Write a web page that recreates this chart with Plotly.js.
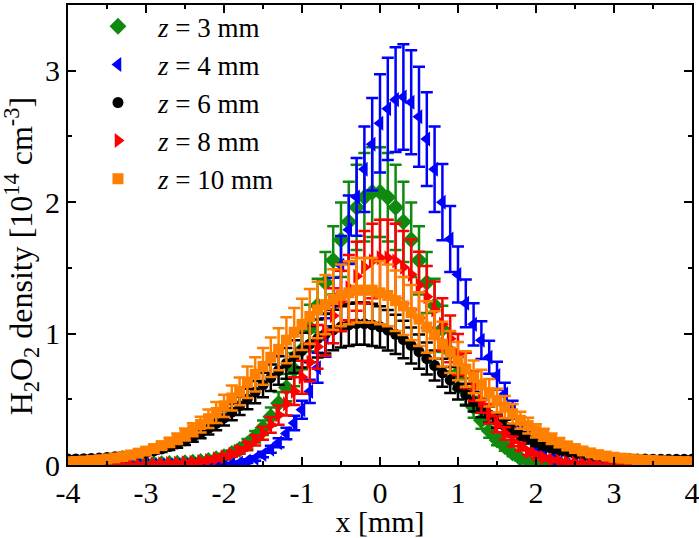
<!DOCTYPE html>
<html>
<head>
<meta charset="utf-8">
<script src="https://cdn.plot.ly/plotly-3.0.1.min.js"></script>
<style>
  html, body { margin: 0; padding: 0; background: #fff; }
  #plot { width: 699px; height: 538px; }
</style>
</head>
<body>
<div id="plot"></div>
<script>
// measurement positions [mm]
var xPos = [-4.0,-3.9,-3.8,-3.7,-3.6,-3.5,-3.4,-3.3,-3.2,-3.1,
            -3.0,-2.9,-2.8,-2.7,-2.6,-2.5,-2.4,-2.3,-2.2,-2.1,
            -2.0,-1.9,-1.8,-1.7,-1.6,-1.5,-1.4,-1.3,-1.2,-1.1,
            -1.0,-0.9,-0.8,-0.7,-0.6,-0.5,-0.4,-0.3,-0.2,-0.1,
             0.0, 0.1, 0.2, 0.3, 0.4, 0.5, 0.6, 0.7, 0.8, 0.9,
             1.0, 1.1, 1.2, 1.3, 1.4, 1.5, 1.6, 1.7, 1.8, 1.9,
             2.0, 2.1, 2.2, 2.3, 2.4, 2.5, 2.6, 2.7, 2.8, 2.9,
             3.0, 3.1, 3.2, 3.3, 3.4, 3.5, 3.6, 3.7, 3.8, 3.9, 4.0];

// z = 3 mm
var z3 = [0.01,0.01,0.01,0.01,0.01,0.01,0.01,0.01,0.01,0.01,
          0.01,0.01,0.01,0.012,0.014,0.017,0.021,0.027,0.035,0.047,
          0.064,0.087,0.119,0.161,0.215,0.284,0.368,0.470,0.589,0.726,
          0.878,1.042,1.214,1.388,1.557,1.714,1.850,1.960,2.037,2.076,
          2.076,2.037,1.960,1.850,1.714,1.557,1.388,1.214,1.035,0.86,
          0.70,0.56,0.44,0.34,0.26,0.19,0.14,0.09,0.05,0.03,
          0.01,0,0,0,0,0,0,0,0,0,
          0,0,0,0,0,0,0,0,0,0,0];
var z3err = [0.01,0.01,0.01,0.01,0.01,0.01,0.01,0.01,0.01,0.01,
             0.01,0.01,0.01,0.012,0.012,0.013,0.013,0.014,0.016,0.018,
             0.02,0.024,0.029,0.036,0.044,0.055,0.069,0.085,0.104,0.126,
             0.15,0.177,0.204,0.232,0.259,0.284,0.306,0.324,0.336,0.342,
             0.342,0.336,0.324,0.306,0.284,0.259,0.232,0.204,0.176,0.148,
             0.122,0.10,0.08,0.064,0.052,0.04,0.032,0.024,0.018,0.015,
             0.012,0.01,0.01,0.01,0.01,0.01,0.01,0.01,0.01,0.01,
             0.01,0.01,0.01,0.01,0.01,0.01,0.01,0.01,0.01,0.01,0.01];

// z = 4 mm
var z4 = [0,0,0,0,0,0,0,0,0,0,
          0,0,0,0,0,0,0,0,0,0,
          0,0.005,0.015,0.03,0.05,0.08,0.12,0.17,0.24,0.32,
          0.42,0.56,0.74,0.97,1.24,1.52,1.79,2.04,2.25,2.44,
          2.60,2.71,2.78,2.80,2.76,2.65,2.48,2.25,2.00,1.72,
          1.45,1.23,1.07,0.95,0.82,0.68,0.54,0.42,0.31,0.22,
          0.15,0.09,0.05,0.02,0,0,0,0,0,0,
          0,0,0,0,0,0,0,0,0,0,0];
var z4err = [0.01,0.01,0.01,0.01,0.01,0.01,0.01,0.01,0.01,0.01,
             0.01,0.01,0.01,0.01,0.01,0.01,0.01,0.01,0.01,0.01,
             0.01,0.01,0.012,0.014,0.017,0.021,0.027,0.034,0.044,0.055,
             0.069,0.088,0.114,0.146,0.184,0.223,0.261,0.296,0.325,0.352,
             0.374,0.389,0.399,0.402,0.396,0.381,0.357,0.325,0.29,0.251,
             0.213,0.182,0.16,0.143,0.125,0.105,0.086,0.069,0.053,0.041,
             0.031,0.023,0.017,0.013,0.01,0.01,0.01,0.01,0.01,0.01,
             0.01,0.01,0.01,0.01,0.01,0.01,0.01,0.01,0.01,0.01,0.01];

// z = 6 mm
var z6 = [0.045,0.046,0.048,0.050,0.053,0.057,0.062,0.068,0.075,0.084,
          0.095,0.107,0.122,0.140,0.160,0.184,0.212,0.243,0.278,0.316,
          0.358,0.403,0.451,0.502,0.555,0.609,0.664,0.719,0.773,0.825,
          0.874,0.920,0.962,0.998,1.028,1.051,1.066,1.075,1.075,1.066,
          1.051,1.026,0.994,0.955,0.910,0.862,0.810,0.757,0.702,0.646,
          0.590,0.535,0.482,0.431,0.383,0.338,0.297,0.260,0.227,0.197,
          0.171,0.148,0.128,0.111,0.097,0.085,0.075,0.067,0.061,0.056,
          0.052,0.049,0.047,0.046,0.045,0.044,0.044,0.043,0.043,0.043,0.043];
var z6err = [0.01,0.01,0.01,0.01,0.01,0.015,0.015,0.015,0.015,0.017,
             0.019,0.02,0.023,0.025,0.028,0.032,0.036,0.040,0.045,0.051,
             0.057,0.063,0.070,0.078,0.085,0.093,0.101,0.109,0.117,0.125,
             0.132,0.138,0.145,0.150,0.154,0.157,0.160,0.161,0.161,0.160,
             0.157,0.154,0.149,0.143,0.137,0.130,0.122,0.115,0.107,0.099,
             0.091,0.083,0.075,0.068,0.061,0.054,0.048,0.043,0.038,0.034,
             0.030,0.026,0.024,0.021,0.019,0.017,0.016,0.015,0.014,0.013,
             0.013,0.012,0.012,0.012,0.011,0.011,0.011,0.011,0.011,0.011,0.011];

// z = 8 mm
var z8 = [0,0,0,0,0,0,0,0,0,0,
          0.005,0.007,0.009,0.011,0.014,0.017,0.021,0.027,0.035,0.047,
          0.062,0.083,0.110,0.144,0.188,0.242,0.306,0.380,0.466,0.562,
          0.668,0.781,0.899,1.019,1.136,1.248,1.349,1.436,1.504,1.552,
          1.577,1.577,1.552,1.504,1.45,1.37,1.28,1.18,1.07,0.96,
          0.84,0.72,0.60,0.49,0.39,0.31,0.24,0.18,0.14,0.10,
          0.075,0.055,0.04,0.030,0.021,0.015,0.010,0.006,0,0,
          0,0,0,0,0,0,0,0,0,0,0];
var z8err = [0.005,0.005,0.005,0.005,0.005,0.005,0.005,0.005,0.005,0.005,
             0.006,0.006,0.007,0.007,0.008,0.008,0.009,0.01,0.011,0.013,
             0.016,0.02,0.025,0.031,0.039,0.049,0.06,0.073,0.089,0.106,
             0.125,0.146,0.167,0.188,0.209,0.23,0.248,0.263,0.276,0.284,
             0.289,0.289,0.284,0.276,0.266,0.252,0.235,0.217,0.198,0.178,
             0.156,0.135,0.113,0.093,0.075,0.061,0.048,0.037,0.03,0.023,
             0.019,0.015,0.012,0.01,0.009,0.008,0.007,0.006,0.005,0.005,
             0.005,0.005,0.005,0.005,0.005,0.005,0.005,0.005,0.005,0.005,0.005];

// z = 10 mm
var z10 = [0.025,0.027,0.030,0.034,0.040,0.046,0.054,0.064,0.076,0.090,
           0.106,0.125,0.147,0.172,0.200,0.232,0.268,0.308,0.352,0.40,
           0.45,0.51,0.56,0.63,0.69,0.75,0.82,0.88,0.95,1.01,
           1.07,1.13,1.18,1.22,1.26,1.29,1.31,1.33,1.33,1.33,
           1.31,1.29,1.25,1.21,1.16,1.11,1.05,0.99,0.92,0.86,
           0.79,0.73,0.67,0.61,0.55,0.49,0.44,0.39,0.34,0.30,
           0.26,0.23,0.20,0.17,0.145,0.125,0.107,0.092,0.079,0.068,
           0.059,0.052,0.046,0.041,0.037,0.034,0.031,0.029,0.027,0.026,0.025];
var z10err = [0.01,0.01,0.01,0.01,0.01,0.01,0.015,0.015,0.02,0.02,
              0.025,0.03,0.03,0.035,0.04,0.045,0.05,0.06,0.07,0.08,
              0.085,0.095,0.105,0.12,0.13,0.14,0.15,0.16,0.175,0.185,
              0.195,0.21,0.215,0.225,0.23,0.235,0.24,0.245,0.245,0.245,
              0.24,0.235,0.23,0.22,0.21,0.205,0.195,0.18,0.17,0.16,
              0.145,0.135,0.125,0.115,0.105,0.09,0.085,0.075,0.065,0.06,
              0.05,0.045,0.04,0.035,0.03,0.03,0.025,0.02,0.02,0.015,
              0.015,0.015,0.01,0.01,0.01,0.01,0.01,0.01,0.01,0.01,0.01];

var seriesNames = ['<i>z</i> = 3 mm', '<i>z</i> = 4 mm', '<i>z</i> = 6 mm', '<i>z</i> = 8 mm', '<i>z</i> = 10 mm'];
var seriesY = [z3, z4, z6, z8, z10];
var seriesErr = [z3err, z4err, z6err, z8err, z10err];
var seriesColor = ['#0f8a0f', '#0000ff', '#000000', '#ff0000', '#ff8000'];
var seriesSymbol = ['diamond', 'triangle-left', 'circle', 'triangle-right', 'square'];
var seriesSize = [13, 13, 11, 13, 11];

var xTicks = [-4, -3, -2, -1, 0, 1, 2, 3, 4];
var xTickText = ['-4', '-3', '-2', '-1', '0', '1', '2', '3', '4'];
var yTicks = [0, 1, 2, 3];

var traces = [];
for (var i = 0; i < seriesY.length; i++) {
    traces.push({
        x: xPos,
        y: seriesY[i],
        type: 'scatter',
        mode: 'markers',
        name: seriesNames[i],
        legendgroup: 'g' + i,
        marker: {symbol: seriesSymbol[i], size: seriesSize[i], color: seriesColor[i], line: {width: 0}},
        error_y: {type: 'data', array: seriesErr[i], visible: true, color: seriesColor[i], thickness: 2.5, width: 6}
    });
}

// text sizes (tuned against the reference)
var serif = 'Liberation Serif';
var axisFont = {family: serif, size: 30, color: '#000'};
var ytitleFont = {family: serif, size: 32, color: '#000'};
var legendFont = {family: serif, size: 27, color: '#000'};

var layout = {
    width: 699,
    height: 538,
    margin: {l: 68, r: 7, t: 2, b: 73},
    paper_bgcolor: '#fff',
    plot_bgcolor: '#fff',
    font: axisFont,
    showlegend: true,
    legend: {
        x: 0.016, y: 1.006, xanchor: 'left', yanchor: 'top',
        bgcolor: 'rgba(0,0,0,0)',
        font: legendFont,
        traceorder: 'grouped',
        tracegroupgap: 0,
        itemwidth: 70
    },
    xaxis: {
        range: [-4, 4],
        tickmode: 'array', tickvals: xTicks, ticktext: xTickText,
        ticks: 'inside', ticklen: 8, tickwidth: 2, tickcolor: '#000',
        minor: {dtick: 0.5, ticks: 'inside', ticklen: 4, tickwidth: 2, tickcolor: '#000'},
        showline: true, linewidth: 2, linecolor: '#000', mirror: 'ticks',
        showgrid: false, zeroline: false,
        ticklabeloverflow: 'allow',
        tickfont: axisFont,
        title: {text: 'x [mm]', font: axisFont, standoff: 7}
    },
    yaxis: {
        range: [0, 3.5],
        tickmode: 'array', tickvals: yTicks,
        ticks: 'inside', ticklen: 8, tickwidth: 2, tickcolor: '#000',
        minor: {dtick: 0.5, ticks: 'inside', ticklen: 4, tickwidth: 2, tickcolor: '#000'},
        showline: true, linewidth: 2, linecolor: '#000', mirror: 'ticks',
        showgrid: false, zeroline: false,
        tickfont: axisFont
    },
    annotations: [{
        text: 'H<sub>2</sub>O<sub>2</sub> density [10<sup>14</sup> cm<sup>-3</sup>]',
        textangle: -90,
        xref: 'paper', yref: 'paper',
        x: -0.075, y: 0.454, xanchor: 'center', yanchor: 'middle',
        showarrow: false,
        font: ytitleFont
    }]
};

Plotly.newPlot('plot', traces, layout, {displayModeBar: false, responsive: false});
</script>
</body>
</html>
